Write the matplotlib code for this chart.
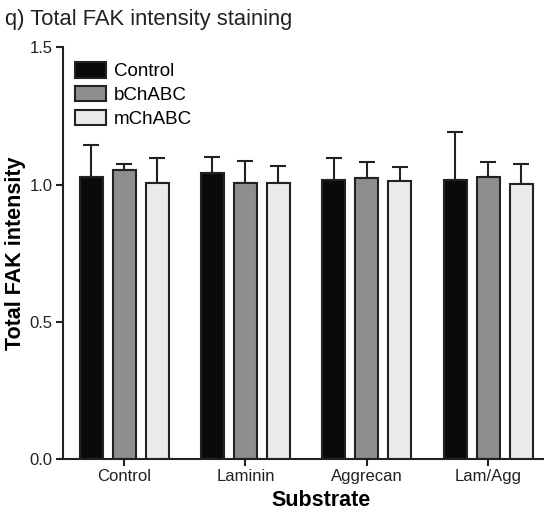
import matplotlib.pyplot as plt
import numpy as np

plt.rcParams['font.family'] = ['Liberation Sans', 'DejaVu Sans']

substrates = ['Control', 'Laminin', 'Aggrecan', 'Lam/Agg']
treatments = ['Control', 'bChABC', 'mChABC']
colors = ['#0a0a0a', '#8e8e8e', '#e9eaeb']

means = {
    'Control': [1.026, 1.041, 1.018, 1.015],
    'bChABC': [1.053, 1.005, 1.022, 1.027],
    'mChABC': [1.005, 1.005, 1.012, 1.003],
}
errs = {
    'Control': [0.118, 0.059, 0.079, 0.178],
    'bChABC': [0.022, 0.082, 0.060, 0.055],
    'mChABC': [0.092, 0.063, 0.051, 0.072],
}

fig = plt.figure(figsize=(5.44, 5.13), dpi=100)
ax = fig.add_axes([0.115, 0.105, 0.885, 0.803])

x = np.arange(len(substrates))
width = 0.19
step = 0.272
for i, t in enumerate(treatments):
    pos = x + (i - 1) * step
    ax.bar(pos, means[t], width, color=colors[i], edgecolor='#222222',
           linewidth=1.5, label=t, zorder=2)
    ax.errorbar(pos, means[t], yerr=[np.zeros(4), errs[t]], fmt='none',
                ecolor='#222222', elinewidth=1.5, capsize=6, capthick=1.5, zorder=1)

ax.set_xlim(-0.507, 3.46)
ax.set_ylim(0, 1.5)
ax.set_yticks([0.0, 0.5, 1.0, 1.5])
ax.set_yticklabels(['0.0', '0.5', '1.0', '1.5'])
ax.set_xticks(x)
ax.set_xticklabels(substrates)
ax.tick_params(axis='both', width=1.5, length=5, labelsize=12, colors='#222222', pad=2)
for s in ['top', 'right']:
    ax.spines[s].set_visible(False)
for s in ['left', 'bottom']:
    ax.spines[s].set_linewidth(1.5)
    ax.spines[s].set_color('#222222')

ax.set_ylabel('Total FAK intensity', fontsize=15.5, fontweight='bold')
ax.yaxis.set_label_coords(-0.076, 0.5)
ax.set_xlabel('Substrate', fontsize=15.5, fontweight='bold')
ax.xaxis.set_label_coords(0.537, -0.075)

ax.legend(loc='upper left', bbox_to_anchor=(-0.01, 1.005), frameon=False,
          fontsize=13.5, handlelength=1.7, handleheight=0.9, labelspacing=0.3,
          handletextpad=0.4)

fig.text(0.01, 0.952, 'q) Total FAK intensity staining', fontsize=15.8, color='#222222')

fig.savefig('out.png', dpi=100)
